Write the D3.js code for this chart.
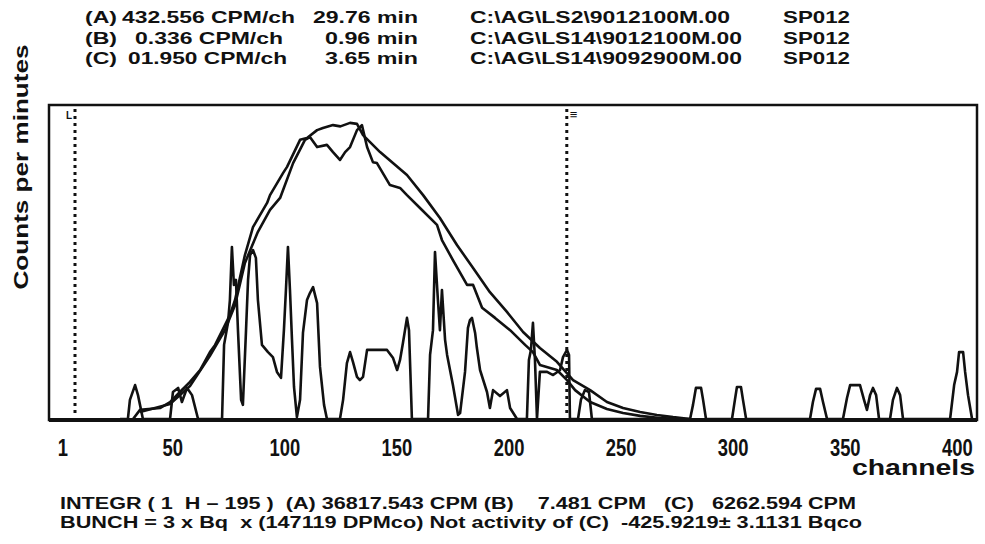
<!DOCTYPE html>
<html>
<head>
<meta charset="utf-8">
<script src="https://cdn.jsdelivr.net/npm/d3@7"></script>
<style>
  body { margin: 0; background: #fff; }
  svg { display: block; font-family: "Liberation Sans", Arial, sans-serif; }
  text { white-space: pre; fill: #111; }
</style>
</head>
<body>
<svg id="chart" width="985" height="544"></svg>
<script>
// header / footer texts
const headerTags = ['(A)', '(B)', '(C)'];
const headerRates = ['432.556 CPM/ch', '0.336 CPM/ch', '01.950 CPM/ch'];
const headerTimes = ['29.76 min', '0.96 min', '3.65 min'];
const headerFiles = ['C:\\AG\\LS2\\9012100M.00', 'C:\\AG\\LS14\\9012100M.00', 'C:\\AG\\LS14\\9092900M.00'];
const headerCodes = ['SP012', 'SP012', 'SP012'];
const footerLines = [
  'INTEGR ( 1  H – 195 )  (A) 36817.543 CPM (B)    7.481 CPM   (C)   6262.594 CPM',
  'BUNCH = 3 x Bq  x (147119 DPMco) Not activity of (C)  -425.9219± 3.1131 Bqco',
];
const channelTicks = [1, 50, 100, 150, 200, 250, 300, 350, 400];
const markerLabels = ['L', '≡'];
const markerChannels = [6.6, 226];

// spectra: [channel, counts per minute]
const spectrumA = [
  [32.5, 0], [35.6, 2.9], [44.5, 3.5], [49, 5.4], [53.4, 8.6], [57.9, 11.8], [62.4, 15.6],
  [66.8, 21.3], [69.1, 23.6], [73.5, 29.9], [75.7, 33.1], [78, 37.9], [82.4, 52.2], [86, 61.1],
  [92.3, 68.8], [93.6, 71.3], [99.4, 78.3], [101.2, 80.3], [107, 88.9], [110.1, 89.5],
  [114.6, 92], [117.2, 92.7], [121.7, 93.6], [125, 93.2], [129.3, 94.3], [132.4, 94],
  [135.1, 90.4], [142.7, 85], [154.7, 77.7], [161.9, 71.3], [169.4, 64], [177, 55.4],
  [184.2, 48.1], [191.7, 40.4], [199.3, 34.1], [206.5, 27.7], [214, 22.6], [221.6, 18.2],
  [228.8, 12.4], [236.4, 9.2], [243.9, 5.4], [251.1, 3.5], [258.7, 2.2], [266.2, 1.3],
  [273.4, 0.6], [281, 0],
];
const spectrumB = [
  [35.6, 2.2], [49, 4.8], [57.9, 10.5], [66.8, 20.1], [73.5, 28.3], [78, 36.3], [82.4, 49.7],
  [88.2, 59.6], [93.6, 66.6], [98.1, 70.4], [103.9, 81.5], [109.2, 88.9], [111.4, 89.8],
  [114.6, 86.6], [119, 87.3], [121.7, 85], [124.8, 82.5], [127.1, 85], [129.3, 86.6],
  [132.4, 92], [134.6, 93.6], [136.9, 86.6], [139.5, 81.8], [141.3, 81.5], [147.1, 74.5],
  [151.6, 73.6], [154.7, 71.3], [160.5, 67.2], [168.1, 61.8], [170.3, 57], [175.2, 50.6],
  [181.5, 42.7], [184.2, 42.7], [188.2, 35.4], [194, 32.2], [200.7, 28.3], [207.4, 23.6],
  [210.9, 21.3], [214, 17.2], [221.6, 15.6], [226.1, 12.4], [229.7, 9.2], [236.4, 5.4],
  [243.9, 3.2], [251.1, 1.9], [258.7, 1], [267.6, 0.3], [276.5, 0],
];
const spectrumC = [
  [26.7, 0], [30.2, 0], [31.1, 6.1], [33.4, 10.8], [34.7, 7.6], [35.6, 4.5], [36.9, 0],
  [49, 0], [50.3, 8.6], [52.6, 9.9], [54.3, 5.4], [56.6, 9.9], [58.8, 7.6], [61.5, 0],
  [72.2, 0], [73.1, 23.6], [74.9, 30.9], [75.7, 37.9], [76.6, 54.8], [77.5, 42.7], [78.4, 44.3],
  [79.3, 28.3], [80.7, 6.1], [81.5, 4.5], [82.9, 28.3], [83.8, 44.3], [84.7, 52.2], [86, 53.8],
  [87.3, 51.3], [88.2, 37.9], [90, 23.6], [92.7, 21.3], [94.9, 19.7], [96.7, 15], [98.5, 13.1],
  [99.8, 28.3], [100.7, 41.1], [101.6, 54.8], [102.5, 41.1], [103.4, 25.2], [104.3, 10.2],
  [105.6, 0.6], [107, 6.1], [108.3, 27.4], [110.1, 37.9], [111.4, 40.1], [112.8, 42],
  [114.6, 36.9], [115.9, 16.6], [117.7, 4.5], [119, 0], [124.8, 0], [126.2, 6.1], [127.9, 17.8],
  [129.3, 21.3], [130.6, 18.2], [132.4, 13.4], [133.7, 12.4], [135.1, 13.4], [136.9, 22],
  [145.8, 22], [148.5, 19.4], [150.3, 15.6], [151.6, 18.8], [152.9, 24.2], [154.7, 32.2],
  [155.6, 28.3], [156.9, 0], [164.1, 0], [165, 20.4], [166.3, 28.3], [167.2, 53.2], [168.5, 37.9],
  [169.4, 28.3], [170.3, 41.1], [171.7, 25.2], [172.6, 20.4], [175.2, 10.8], [177.5, 1.3],
  [178.4, 1.9], [180.6, 15], [181.9, 29], [182.8, 31.5], [183.7, 32.2], [185.1, 27.4],
  [185.9, 22.6], [187.3, 15.6], [190.4, 8.6], [191.7, 3.5], [193.1, 9.2], [196.2, 7.3],
  [199.3, 9.2], [200.7, 3.5], [203.8, 0], [208.2, 0], [209.1, 18.8], [210, 22], [210.9, 30.6],
  [211.8, 18.8], [212.7, 0], [214, 15], [217.2, 15], [219.9, 14], [223, 15.6], [224.3, 19.7],
  [226.1, 22], [227, 20.4], [227.4, 0], [231, 0], [232.3, 6.1], [234.1, 9.2], [235.9, 8.6],
  [237.2, 0], [281, 0], [282.3, 4.5], [283.6, 9.9], [285.9, 9.9], [286.8, 6.1], [288.1, 0],
  [299.7, 0], [301, 6.1], [301.9, 10.2], [303.7, 10.2], [304.6, 6.1], [306, 0],
  [334.5, 0], [335.8, 5.4], [337.2, 9.6], [339, 9.6], [340.3, 5.4], [342.1, 0],
  [349.2, 0], [351, 6.7], [352.4, 10.8], [356.8, 10.8], [358.6, 6.1], [359.9, 2.9], [361.3, 7.6],
  [362.6, 9.9], [364, 7.6], [365.3, 0], [370.2, 0], [371.5, 6.1], [373.3, 9.9], [374.7, 7.6],
  [376, 0], [397, 0], [398.8, 10.8], [400.1, 15], [401, 21.3], [402.8, 21.3], [403.7, 15],
  [405, 7.6], [406.8, 0],
];

const svg = d3.select('#chart');
const plot = { left: 49, right: 977, top: 105, bottom: 420 };

const x = d3.scaleLinear().domain([-5, 409]).range([plot.left, plot.right]);
const y = d3.scaleLinear().domain([0, 100]).range([419, plot.top]);

// squeeze / stretch text to a given width
function fit(sel, w) {
  sel.attr('textLength', w).attr('lengthAdjust', 'spacingAndGlyphs');
}

// header block
const rateBox = [[122, 173], [135, 148], [128, 159]];
const timeW = [105, 93, 93];
const fileW = [260, 272, 272];
const rowBase = [23, 44, 64];
headerTags.forEach((t, i) => {
  const g = svg.append('g').attr('font-size', 17).attr('font-weight', 'bold');
  g.append('text').attr('x', 85).attr('y', rowBase[i]).text(t).call(fit, 32);
  g.append('text').attr('x', rateBox[i][0]).attr('y', rowBase[i]).text(headerRates[i]).call(fit, rateBox[i][1]);
  g.append('text').attr('x', 418).attr('y', rowBase[i]).attr('text-anchor', 'end')
    .text(headerTimes[i]).call(fit, timeW[i]);
  g.append('text').attr('x', 470).attr('y', rowBase[i]).text(headerFiles[i]).call(fit, fileW[i]);
  g.append('text').attr('x', 783).attr('y', rowBase[i]).text(headerCodes[i]).call(fit, 67);
});

// y title
svg.append('text')
  .attr('transform', 'translate(28,167) rotate(-90)')
  .attr('text-anchor', 'middle')
  .attr('font-size', 21)
  .attr('font-weight', 'bold')
  .text('Counts per minutes')
  .call(fit, 245);

// spectra
const line = d3.line().x((d) => x(d[0])).y((d) => y(d[1]));
[spectrumA, spectrumB, spectrumC].forEach((s) => {
  svg.append('path')
    .datum(s)
    .attr('d', line)
    .attr('fill', 'none')
    .attr('stroke', '#111')
    .attr('stroke-width', 2.6)
    .attr('stroke-linejoin', 'round');
});

// window markers
markerChannels.forEach((c, i) => {
  svg.append('line')
    .attr('x1', x(c)).attr('x2', x(c))
    .attr('y1', plot.top + 4).attr('y2', 416)
    .attr('stroke', '#111')
    .attr('stroke-width', 3)
    .attr('stroke-dasharray', '3,4');
  svg.append('text')
    .attr('x', i === 0 ? x(c) - 3 : x(c) + 3)
    .attr('y', plot.top + 14)
    .attr('text-anchor', i === 0 ? 'end' : 'start')
    .attr('font-size', i === 0 ? 10 : 13)
    .attr('font-weight', 'bold')
    .text(markerLabels[i]);
});

// frame
svg.append('rect')
  .attr('x', plot.left).attr('y', plot.top)
  .attr('width', plot.right - plot.left).attr('height', plot.bottom - plot.top)
  .attr('fill', 'none').attr('stroke', '#111').attr('stroke-width', 2.5);
svg.append('line')
  .attr('x1', plot.left).attr('x2', plot.right)
  .attr('y1', plot.bottom).attr('y2', plot.bottom)
  .attr('stroke', '#111').attr('stroke-width', 4);

// x axis labels
const xAxis = svg.append('g')
  .attr('transform', `translate(0,${plot.bottom + 17})`)
  .call(d3.axisBottom(x).tickValues(channelTicks).tickSize(0).tickFormat(d3.format('d')));
xAxis.select('.domain').remove();
xAxis.selectAll('text')
  .attr('font-family', '"Liberation Sans", Arial, sans-serif')
  .attr('font-size', 23)
  .attr('font-weight', 'bold')
  .attr('fill', '#111')
  .attr('transform', 'scale(0.8,1)');

svg.append('text')
  .attr('x', 975).attr('y', 475)
  .attr('text-anchor', 'end')
  .attr('font-size', 22)
  .attr('font-weight', 'bold')
  .text('channels')
  .call(fit, 123);

// footer
footerLines.forEach((t, i) => {
  svg.append('text')
    .attr('x', 60).attr('y', 509 + i * 19)
    .attr('font-size', 16)
    .attr('font-weight', 'bold')
    .text(t)
    .call(fit, i === 0 ? 796 : 802);
});
</script>
</body>
</html>
